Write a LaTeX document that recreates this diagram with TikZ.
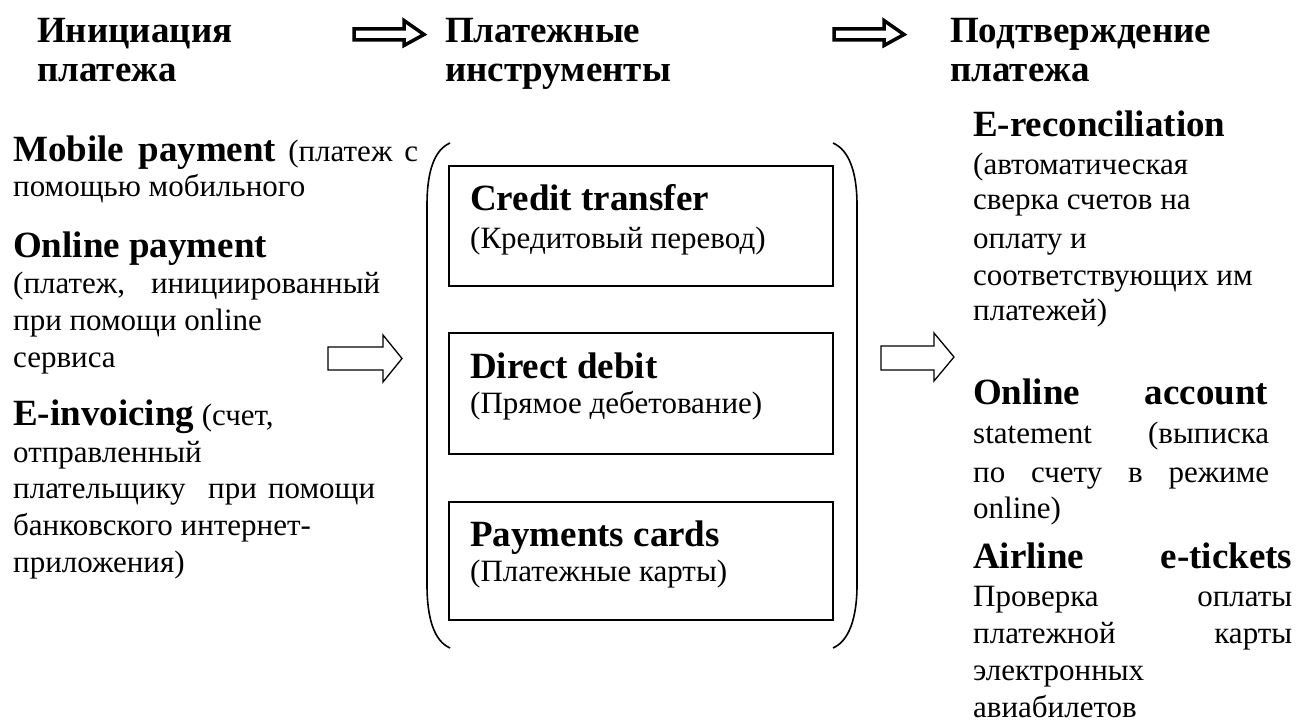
\documentclass[tikz,border=0pt]{standalone}
\usepackage{fontspec}
\setmainfont{Liberation Serif}
\begin{document}
\begin{tikzpicture}[x=1pt,y=1pt,
  txtbody/.style={anchor=base west, inner sep=0pt, font=\fontsize{31pt}{36pt}\selectfont},
  txtbold/.style={txtbody, font=\fontsize{37pt}{40pt}\selectfont\bfseries},
  txthead/.style={txtbold},
  boxstyle/.style={draw, line width=2pt},
  parenstyle/.style={draw, line width=1.6pt},
  blockarrow/.style={draw, line width=1.3pt, line join=miter},
  headarrow/.style={draw, line width=3.5pt, line join=miter}]
\useasboundingbox (0,0) rectangle (1309,-722);

% headers
\node[txthead] (h1a) at (37,-43) {Инициация};
\node[txthead] (h1b) at (37,-82) {платежа};
\node[txthead] (h2a) at (445,-43) {Платежные};
\node[txthead] (h2b) at (445,-82) {инструменты};
\node[txthead] (h3a) at (950,-43) {Подтверждение};
\node[txthead] (h3b) at (950,-82) {платежа};

% header arrows
\draw[headarrow] (354,-29) -- (404,-29) -- (404,-20.5) -- (424,-34.5) -- (404,-45.5) -- (404,-40) -- (354,-40) -- cycle;
\draw[headarrow] (834,-29) -- (884,-29) -- (884,-20.5) -- (904,-34.5) -- (884,-45.5) -- (884,-40) -- (834,-40) -- cycle;

% left column
\node[txtbody] (l1) at (13,-162) {\makebox[405pt][s]{{\fontsize{37pt}{40pt}\selectfont\bfseries Mobile payment} (платеж с}};
\node[txtbody] (l2) at (13,-197) {помощью мобильного};
\node[txtbold] (l3) at (13,-257) {Online payment};
\node[txtbody] (l4) at (13,-293) {\makebox[367pt][s]{(платеж,\ \ инициированный}};
\node[txtbody] (l5) at (13,-330) {при помощи online};
\node[txtbody] (l6) at (13,-367) {сервиса};
\node[txtbody] (l7) at (13,-425) {{\fontsize{37pt}{40pt}\selectfont\bfseries E-invoicing} (счет,};
\node[txtbody] (l8) at (13,-462) {отправленный};
\node[txtbody] (l9) at (13,-498) {\makebox[362pt][s]{плательщику\ \ при помощи}};
\node[txtbody] (l10) at (13,-535) {банковского интернет-};
\node[txtbody] (l11) at (13,-572) {приложения)};

% left block arrow
\draw[blockarrow] (328,-347) -- (383,-347) -- (383,-335) -- (402,-358.5) -- (383,-382) -- (383,-370) -- (328,-370) -- cycle;

% parentheses
\draw[parenstyle] (450,-143) .. controls (434,-150) and (427,-172) .. (427,-205) -- (427,-585) .. controls (427,-618) and (434,-641) .. (450,-648);
\draw[parenstyle] (833,-143) .. controls (849,-150) and (857,-172) .. (857,-205) -- (857,-585) .. controls (857,-618) and (849,-641) .. (833,-648);

% boxes
\draw[boxstyle] (449,-166) rectangle (833,-286);
\draw[boxstyle] (449,-333) rectangle (833,-454);
\draw[boxstyle] (449,-502) rectangle (833,-620);
\node[txtbold] (b1a) at (470,-211) {Credit transfer};
\node[txtbody] (b1b) at (470,-248) {(Кредитовый перевод)};
\node[txtbold] (b2a) at (470,-378) {Direct debit};
\node[txtbody] (b2b) at (470,-413) {(Прямое дебетование)};
\node[txtbold] (b3a) at (470,-546) {Payments cards};
\node[txtbody] (b3b) at (470,-581) {(Платежные карты)};

% right block arrow
\draw[blockarrow] (881,-346) -- (934,-346) -- (934,-333) -- (954,-357) -- (934,-381) -- (934,-370) -- (881,-370) -- cycle;

% right column
\node[txtbold] (r1) at (973,-137) {E-reconciliation};
\node[txtbody] (r2) at (973,-175) {(автоматическая};
\node[txtbody] (r3) at (973,-210) {сверка счетов на};
\node[txtbody] (r4) at (973,-248) {оплату и};
\node[txtbody] (r5) at (973,-285) {соответствующих им};
\node[txtbody] (r6) at (973,-320) {платежей)};
\node[txtbold] (r7) at (973,-404) {\makebox[295pt][s]{Online account}};
\node[txtbody] (r8) at (973,-443) {\makebox[296pt][s]{statement (выписка}};
\node[txtbody] (r9) at (973,-482) {\makebox[296pt][s]{по счету в режиме}};
\node[txtbody] (r10) at (973,-518) {online)};
\node[txtbold] (r11) at (973,-568) {\makebox[319pt][s]{Airline e-tickets}};
\node[txtbody] (r12) at (973,-606) {\makebox[319pt][s]{Проверка оплаты}};
\node[txtbody] (r13) at (973,-643) {\makebox[319pt][s]{платежной карты}};
\node[txtbody] (r14) at (973,-680) {электронных};
\node[txtbody] (r15) at (973,-717) {авиабилетов};
\end{tikzpicture}
\end{document}
